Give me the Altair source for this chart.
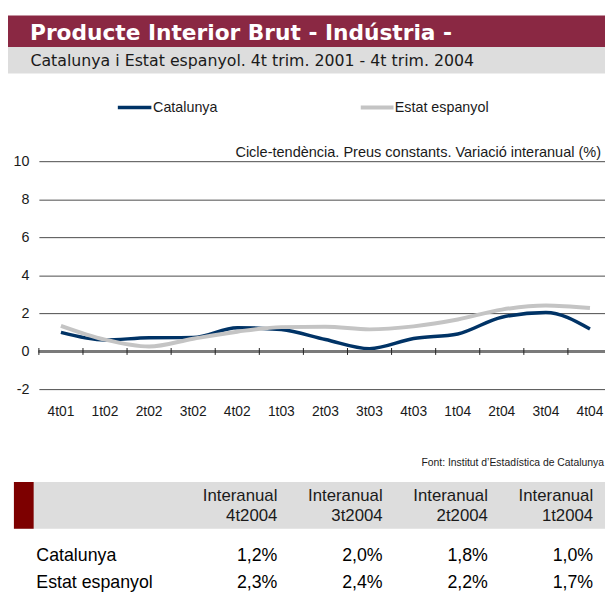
import altair as alt
import pandas as pd

# ---------------- data ----------------
quarters = ['4t01', '1t02', '2t02', '3t02', '4t02', '1t03', '2t03',
            '3t03', '4t03', '1t04', '2t04', '3t04', '4t04']
catalunya = [1.0, 0.6, 0.72, 0.73, 1.25, 1.15, 0.63, 0.15, 0.68, 0.92, 1.8, 2.05, 1.18]
estat = [1.35, 0.62, 0.26, 0.67, 1.04, 1.28, 1.3, 1.16, 1.32, 1.68, 2.2, 2.42, 2.28]
series_names = ['Catalunya', 'Estat espanyol']
y_ticks = [-2, 0, 2, 4, 6, 8, 10]

table_cols = ['4t2004', '3t2004', '2t2004', '1t2004']
table_head = 'Interanual'
table_cat = ['1,2%', '2,0%', '1,8%', '1,0%']
table_est = ['2,3%', '2,4%', '2,2%', '1,7%']

title_text = 'Producte Interior Brut - Indústria -'
subtitle_text = 'Catalunya i Estat espanyol. 4t trim. 2001 - 4t trim. 2004'
note_text = 'Cicle-tendència. Preus constants. Variació interanual (%)'
source_text = 'Font: Institut d’Estadística de Catalunya'

# ---------------- styles ----------------
BLUE = '#003366'
GRAY = '#c4c4c4'
RED = '#8a2843'
MAROON = '#7d0000'
BAND = '#dddddd'
TXT = '#1a1a1a'
F = 'Liberation Sans'
W = 580.8
H = 231.4

df = pd.DataFrame({
    'q': quarters * 2,
    'v': catalunya + estat,
    's': [series_names[0]] * len(quarters) + [series_names[1]] * len(quarters),
})
qdf = pd.DataFrame({'q': quarters})

xscale = alt.Scale(type='band', domain=quarters, paddingInner=0, paddingOuter=0)
yscale = alt.Scale(domain=[-2, 10], nice=False, zero=False)
cscale = alt.Scale(domain=series_names, range=[BLUE, GRAY])
xaxis = alt.Axis(title=None, ticks=False, tickSize=0, domain=False, grid=False,
                 labelAngle=0, labelPadding=15, labelFont=F, labelFontSize=14,
                 labelColor=TXT)
yaxis = alt.Axis(title=None, values=y_ticks, ticks=False, tickSize=0, domain=False,
                 grid=True, gridColor='#4a4a4a', gridWidth=1, labelPadding=10,
                 labelFont=F, labelFontSize=14.5, labelColor=TXT,
                 labelExpr="replace(datum.label, '\u2212', '-')")

base = alt.Chart(df)
line_cat = base.transform_filter(alt.datum.s == series_names[0]).mark_line(
    interpolate='monotone', strokeWidth=3.5, strokeCap='butt'
).encode(
    x=alt.X('q:N', scale=xscale, bandPosition=0.5, sort=quarters, axis=xaxis),
    y=alt.Y('v:Q', scale=yscale, axis=yaxis),
    color=alt.Color('s:N', scale=cscale, legend=None),
)
line_est = base.transform_filter(alt.datum.s == series_names[1]).mark_line(
    interpolate='monotone', strokeWidth=4, strokeCap='butt'
).encode(
    x=alt.X('q:N', scale=xscale, bandPosition=0.5, sort=quarters, axis=xaxis),
    y=alt.Y('v:Q', scale=yscale, axis=yaxis),
    color=alt.Color('s:N', scale=cscale, legend=None),
)
zero = alt.Chart(qdf).mark_rule(color='#7a7a7a', strokeWidth=2).encode(
    y=alt.Y(datum=0, scale=yscale, axis=yaxis)
)
ticks = alt.Chart(qdf).mark_rule(color='#222222', strokeWidth=1, yOffset=-3.5, y2Offset=3.5).encode(
    x=alt.X('q:N', scale=xscale, bandPosition=0, sort=quarters, axis=xaxis),
    y=alt.Y(datum=0, scale=yscale, axis=yaxis),
    y2=alt.Y2(datum=0),
)
main = alt.layer(line_cat, zero, line_est, ticks)

# ---------------- decorations ----------------
one = pd.DataFrame({'title': [title_text], 'sub': [subtitle_text], 'note': [note_text],
                    'src': [source_text], 'l1': [series_names[0]], 'l2': [series_names[1]]})
dec = alt.Chart(one)
title_bar = dec.mark_rect(color=RED).encode(
    x=alt.value(-32), x2=alt.value(W), y=alt.value(-147.6), y2=alt.value(-115.8))
sub_bar = dec.mark_rect(color=BAND).encode(
    x=alt.value(-32), x2=alt.value(W), y=alt.value(-115.8), y2=alt.value(-88.8))
title_t = dec.mark_text(align='left', baseline='alphabetic', font='DejaVu Sans',
                        fontWeight='bold', fontSize=22, color='white').encode(
    x=alt.value(-9), y=alt.value(-122.6), text='title:N')
sub_t = dec.mark_text(align='left', baseline='alphabetic', font='DejaVu Sans',
                      fontSize=16, color=TXT).encode(
    x=alt.value(-8.6), y=alt.value(-96), text='sub:N')
leg1_l = dec.mark_rule(color=BLUE, strokeWidth=3.5).encode(
    x=alt.value(80), x2=alt.value(114), y=alt.value(-54.3))
leg2_l = dec.mark_rule(color=GRAY, strokeWidth=4).encode(
    x=alt.value(326.2), x2=alt.value(359.4), y=alt.value(-54.3))
leg1_t = dec.mark_text(align='left', baseline='middle', font=F, fontSize=14.5, color=TXT).encode(
    x=alt.value(115.7), y=alt.value(-54.3), text='l1:N')
leg2_t = dec.mark_text(align='left', baseline='middle', font=F, fontSize=14.5, color=TXT).encode(
    x=alt.value(360.7), y=alt.value(-54.3), text='l2:N')
note_t = dec.mark_text(align='right', baseline='alphabetic', font=F, fontSize=14.7, color=TXT).encode(
    x=alt.value(569.7), y=alt.value(-4.3), text='note:N')
src_t = dec.mark_text(align='right', baseline='alphabetic', font=F, fontSize=10.5, color=TXT).encode(
    x=alt.value(572.7), y=alt.value(308.7), text='src:N')
head_bar = dec.mark_rect(color=BAND).encode(
    x=alt.value(-25.3), x2=alt.value(W), y=alt.value(325), y2=alt.value(372.4))
head_blk = dec.mark_rect(color=MAROON).encode(
    x=alt.value(-25.3), x2=alt.value(-5.3), y=alt.value(325), y2=alt.value(372.4))

# ---------------- table ----------------
hdf = pd.DataFrame({'ci': list(range(len(table_cols))), 'c': table_cols,
                    'h': [table_head] * len(table_cols)})
vdf = pd.DataFrame({
    'ci': list(range(len(table_cols))) * 2,
    'ri': [0] * len(table_cols) + [1] * len(table_cols),
    'txt': table_cat + table_est,
})
rdf = pd.DataFrame({'ri': [0, 1], 'name': series_names})
tx = alt.X('ci:Q', scale=alt.Scale(domain=[0, 3], range=[241.7, 561.7]), axis=None)
ty = alt.Y('ri:Q', scale=alt.Scale(domain=[0, 1], range=[405, 432.4]), axis=None)
h1 = alt.Chart(hdf).mark_text(align='right', baseline='alphabetic', font=F, fontSize=17,
                              color=TXT).encode(x=tx, y=alt.value(344), text='h:N')
h2 = alt.Chart(hdf).mark_text(align='right', baseline='alphabetic', font=F, fontSize=17,
                              color=TXT).encode(x=tx, y=alt.value(365), text='c:N')
vals = alt.Chart(vdf).mark_text(align='right', baseline='alphabetic', font=F, fontSize=18,
                                color='black').encode(x=tx, y=ty, text='txt:N')
rows = alt.Chart(rdf).mark_text(align='left', baseline='alphabetic', font=F, fontSize=18,
                                color='black').encode(x=alt.value(-2.6), y=ty, text='name:N')
table = alt.layer(h1, h2, vals, rows)

chart = alt.layer(
    title_bar, sub_bar, title_t, sub_t, leg1_l, leg2_l, leg1_t, leg2_t, note_t, src_t,
    head_bar, head_blk, main, table
).resolve_scale(x='independent', y='independent').properties(
    width=W, height=H,
    padding={'left': 31.3, 'top': 151.3, 'right': -7.1, 'bottom': 204.3},
    autosize=alt.AutoSizeParams(type='none'),
    background='white',
).configure_view(stroke=None)

chart.save('out.html', embed_options={'renderer': 'svg', 'actions': False})
